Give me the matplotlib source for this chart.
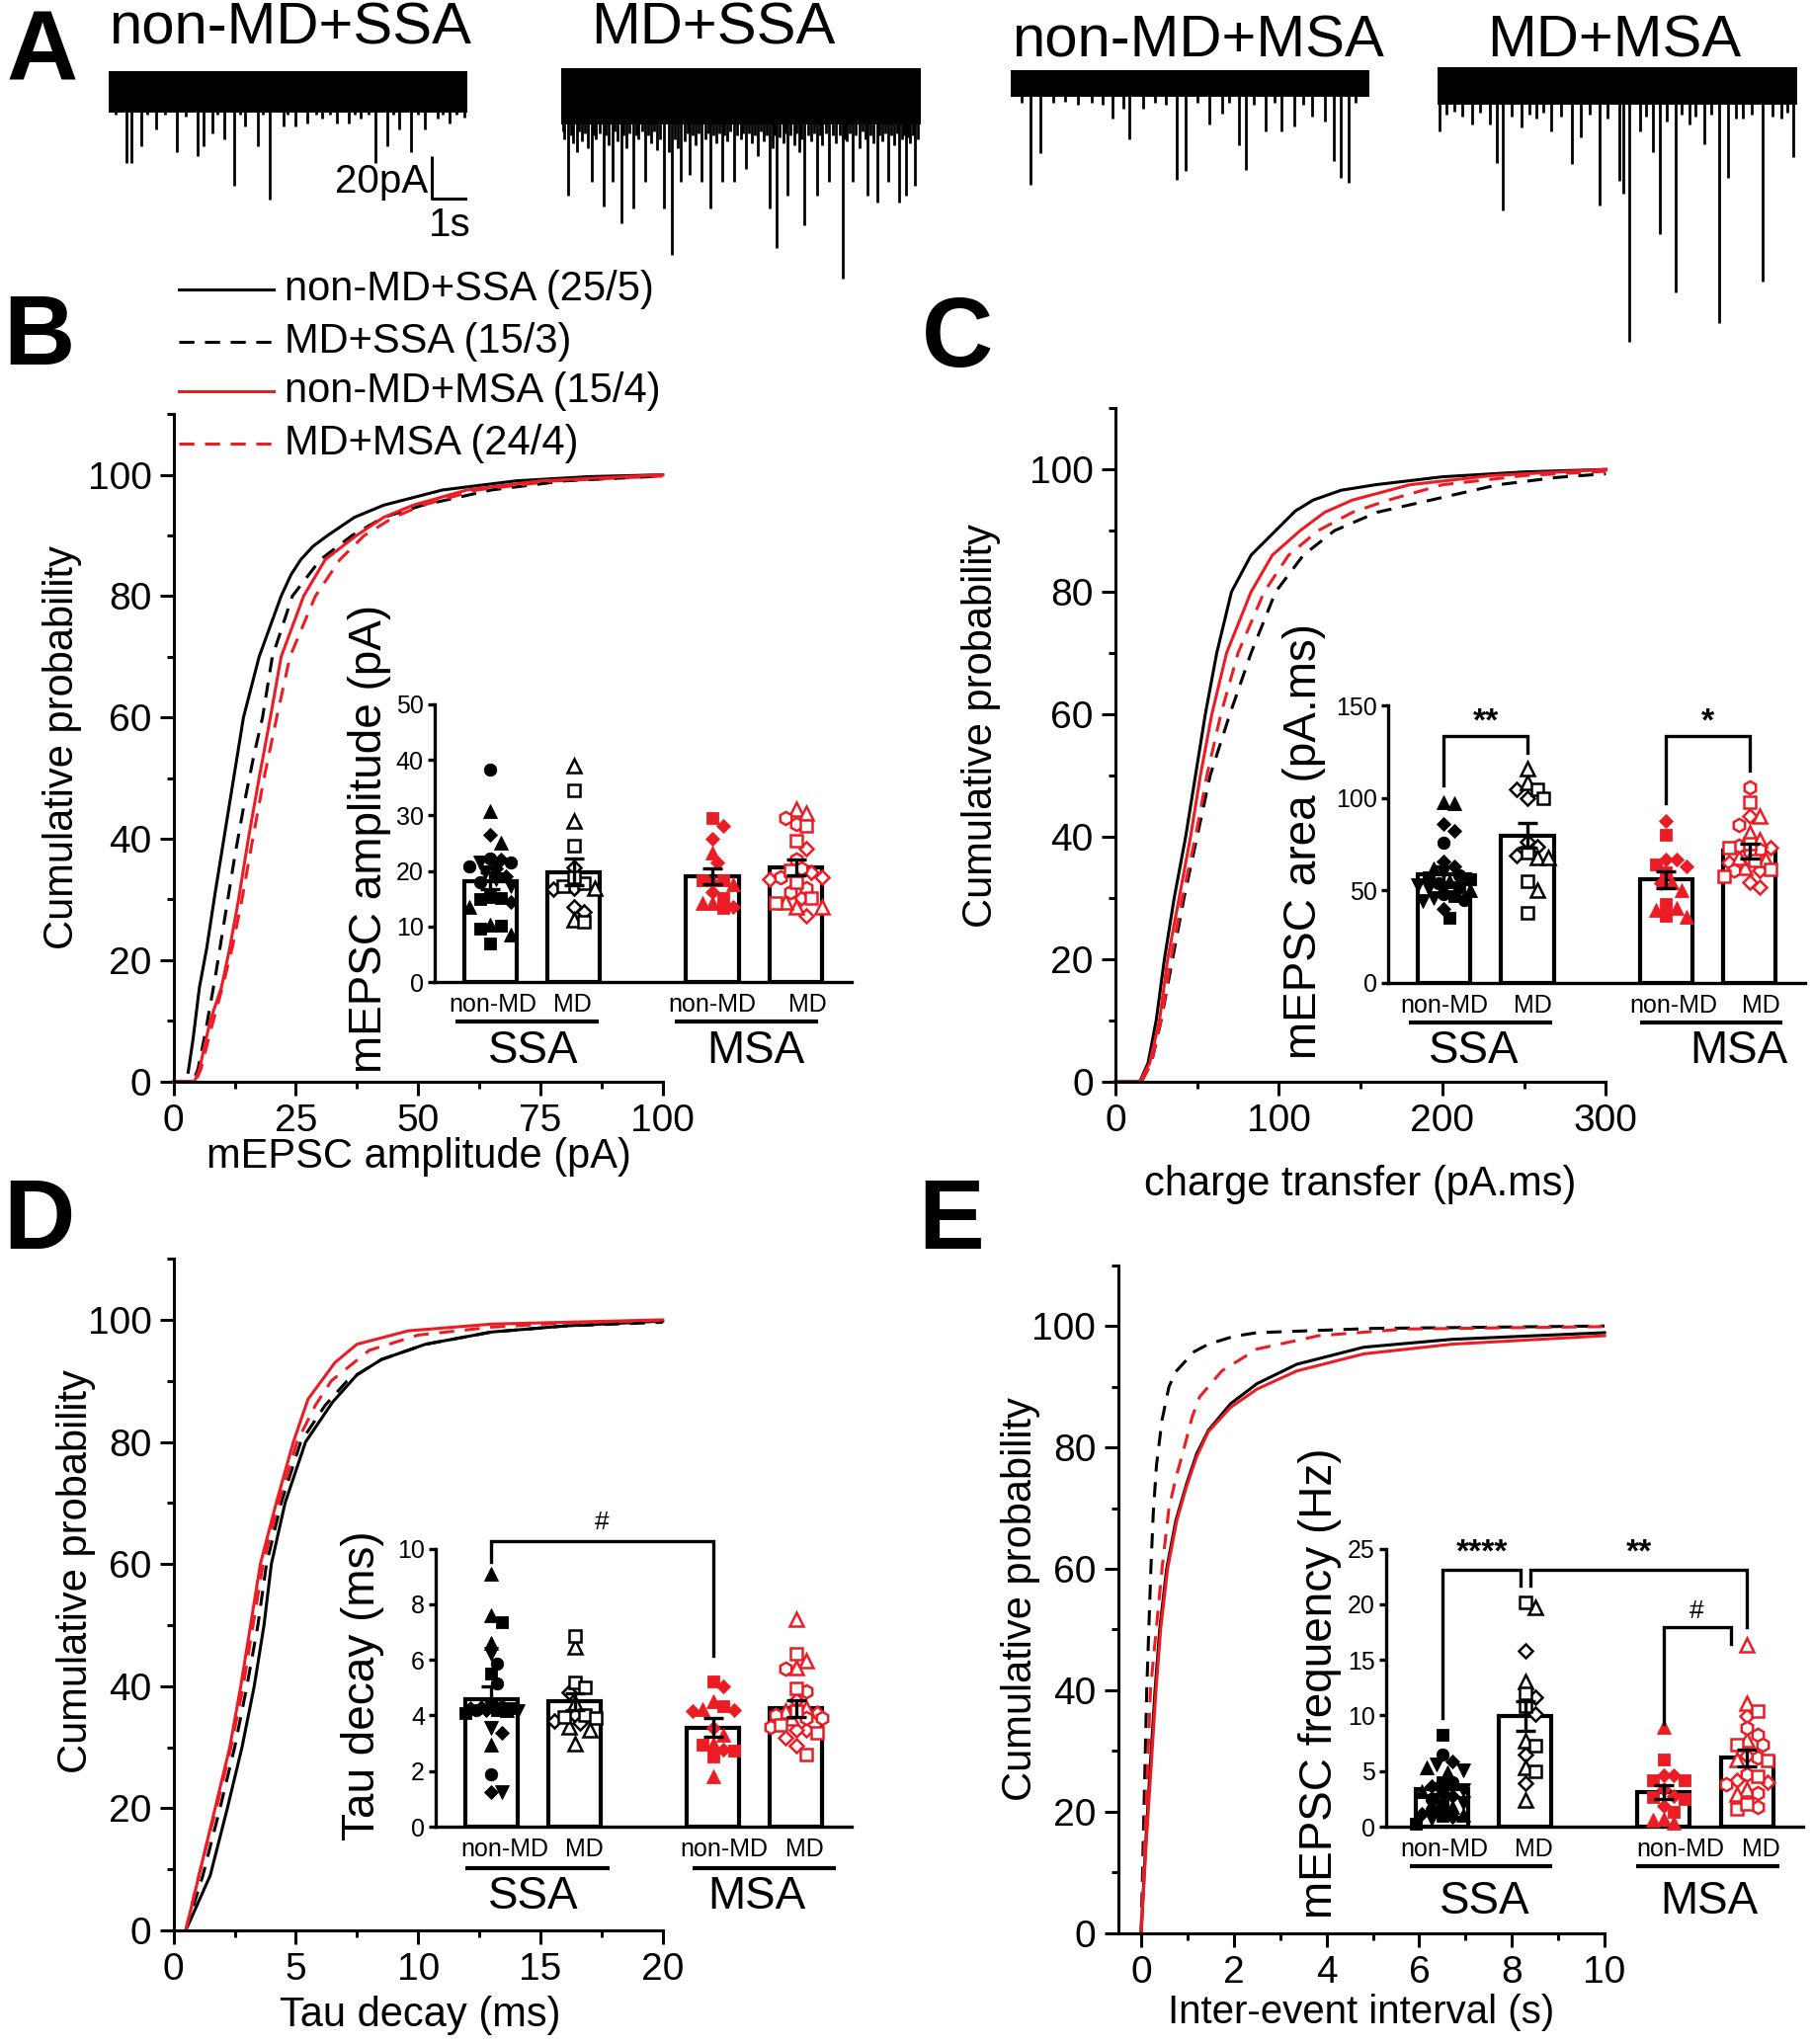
import numpy as np
import matplotlib
matplotlib.use('Agg')
import matplotlib.pyplot as plt

plt.rcParams['font.family'] = ['Liberation Sans', 'DejaVu Sans']

BLACK = '#000000'
RED = '#ec1c24'

# ------------------------------------------------------------------ DATA
# Panel A: representative traces, (event time s, event amplitude pA)
trace_titles = ['non-MD+SSA', 'MD+SSA', 'non-MD+MSA', 'MD+MSA']
trace_length_s = 10.2
trace1_events = [(0.20, 12), (0.51, 35), (0.67, 35), (0.93, 27), (1.10, 12), (1.35, 19), (1.60, 12),
                 (1.94, 30), (2.20, 13), (2.53, 32), (2.70, 27), (2.95, 21), (3.10, 12), (3.29, 24),
                 (3.59, 46), (3.75, 12), (3.88, 17.5), (4.25, 27), (4.40, 12), (4.60, 52.5), (4.97, 17.5),
                 (5.10, 12), (5.31, 17.5), (5.65, 16), (5.90, 12), (6.07, 14), (6.30, 12), (6.49, 16),
                 (6.83, 16), (7.00, 12), (7.17, 14), (7.40, 12), (7.59, 35), (7.92, 27), (8.10, 12),
                 (8.26, 19), (8.60, 30), (8.80, 12), (8.99, 19), (9.36, 14), (9.50, 12), (9.69, 16),
                 (9.90, 12), (10.12, 13.5)]
trace2_events = [(0.05, 20), (0.10, 24), (0.20, 51), (0.28, 22), (0.35, 26), (0.45, 30), (0.52, 20),
                 (0.60, 25), (0.68, 21), (0.75, 28), (0.87, 44.5), (0.94, 22), (1.00, 24), (1.10, 21),
                 (1.21, 56), (1.28, 22), (1.35, 27), (1.46, 44.5), (1.53, 20), (1.60, 25), (1.71, 64),
                 (1.78, 22), (1.85, 28), (1.95, 21), (2.05, 57), (2.12, 22), (2.20, 24), (2.30, 20),
                 (2.39, 44.5), (2.47, 22), (2.55, 26), (2.63, 20), (2.72, 29), (2.80, 24), (2.92, 57),
                 (3.05, 30), (3.14, 79.5), (3.22, 24), (3.30, 28), (3.39, 44.5), (3.50, 25), (3.58, 21),
                 (3.65, 41), (3.72, 22), (3.80, 27), (3.90, 21), (3.98, 44.5), (4.10, 24), (4.17, 21),
                 (4.23, 57), (4.32, 22), (4.40, 26), (4.48, 21), (4.57, 44.5), (4.63, 22), (4.70, 25),
                 (4.80, 20), (4.91, 44.5), (5.00, 22), (5.10, 24), (5.17, 21), (5.24, 38), (5.32, 21),
                 (5.40, 26), (5.49, 22), (5.58, 32), (5.66, 20), (5.75, 25), (5.84, 22), (5.92, 57),
                 (6.00, 28), (6.06, 22), (6.12, 76), (6.20, 23), (6.30, 26), (6.36, 21), (6.42, 51),
                 (6.50, 22), (6.60, 27), (6.68, 21), (6.75, 30), (6.82, 24), (6.89, 65), (7.00, 22),
                 (7.10, 25), (7.18, 21), (7.26, 51), (7.33, 22), (7.40, 27), (7.50, 21), (7.60, 44.5),
                 (7.70, 22), (7.80, 26), (7.89, 22), (7.97, 90.6), (8.03, 24), (8.10, 25), (8.18, 21),
                 (8.27, 44.5), (8.36, 22), (8.45, 28), (8.55, 20), (8.62, 24), (8.69, 51), (8.77, 22),
                 (8.85, 26), (8.97, 54), (9.03, 22), (9.10, 25), (9.18, 21), (9.28, 44.5), (9.36, 22),
                 (9.45, 27), (9.52, 21), (9.58, 54), (9.66, 24), (9.72, 22), (9.78, 51), (9.84, 23),
                 (9.90, 26), (9.96, 22), (10.03, 46), (10.12, 24)]
trace3_events = [(0.30, 10), (0.55, 49), (0.83, 34), (1.20, 10), (1.55, 9.5), (1.90, 11), (2.30, 10),
                 (2.60, 11), (2.89, 17.4), (3.19, 12.6), (3.36, 27.6), (3.76, 12.6), (4.10, 10),
                 (4.40, 11), (4.72, 46.6), (4.97, 42.6), (5.30, 10), (5.64, 20.5), (6.01, 15), (6.20, 10),
                 (6.48, 30), (6.68, 42), (6.90, 11), (7.23, 23.7), (7.50, 10), (7.70, 23.7), (8.06, 21.3),
                 (8.30, 11), (8.56, 16.6), (8.93, 19), (9.18, 38), (9.37, 45.8), (9.60, 48.2), (9.80, 10)]
trace4_events = [(0.05, 23), (0.25, 15), (0.47, 13.4), (0.70, 16), (0.97, 19.8), (1.20, 14), (1.47, 19.8),
                 (1.69, 38), (1.85, 61), (2.10, 16), (2.39, 21), (2.60, 15), (2.80, 16.6), (3.00, 14),
                 (3.22, 23), (3.50, 16), (3.81, 38.7), (4.06, 26), (4.30, 15), (4.59, 58.5), (4.80, 17),
                 (5.14, 46.6), (5.26, 53), (5.44, 124), (5.73, 23), (5.90, 16), (6.09, 33), (6.31, 72),
                 (6.48, 18), (6.74, 100), (6.90, 15), (7.14, 19.8), (7.30, 16), (7.56, 29), (7.75, 15),
                 (7.98, 114.6), (8.23, 45), (8.45, 17), (8.65, 16.6), (8.90, 15), (9.22, 95), (9.50, 16),
                 (9.73, 16.6), (9.90, 14), (10.07, 35.5)]
trace_noise_low = [-11, -17, -7, -10]
trace_noise_high = [9, 10, 6, 8]
scalebar_pA = 20
scalebar_s = 1

# Cumulative distributions (legend order: non-MD+SSA, MD+SSA, non-MD+MSA, MD+MSA)
legend_labels = ['non-MD+SSA (25/5)', 'MD+SSA (15/3)', 'non-MD+MSA (15/4)', 'MD+MSA (24/4)']

amp_cdf_x_nonMD_SSA = [3.0, 4.0, 5.3, 6.8, 8.5, 10.5, 12.5, 14.3, 17.5, 22, 24, 26, 28.5, 31.5, 37, 43, 55, 70, 85, 100]
amp_cdf_y_nonMD_SSA = [1.5, 7, 15.5, 22, 31, 41, 51, 60, 70, 80, 83.5, 86, 88.2, 90, 93, 95, 97.5, 99, 99.7, 100]
amp_cdf_x_MD_SSA = [0, 4.0, 5.0, 6.5, 8.5, 10.5, 12.5, 14.5, 16.5, 18.2, 20.2, 24.3, 30, 36.5, 43, 51, 65, 80, 100]
amp_cdf_y_MD_SSA = [0, 0, 2, 8, 17, 27, 37, 46, 54, 60, 70, 80, 86, 90, 93, 95, 97.5, 99, 99.8]
amp_cdf_x_nonMD_MSA = [0, 4.3, 5.3, 7.5, 9.8, 11.5, 13.3, 15.3, 17.5, 19.8, 22, 26.6, 31, 37.4, 43, 49, 60, 75, 100]
amp_cdf_y_nonMD_MSA = [0, 0, 2, 10, 15.5, 22, 30, 40, 50, 60, 70, 80, 86, 90, 93, 95, 97.5, 99, 100]
amp_cdf_x_MD_MSA = [0, 4.5, 5.6, 7.8, 10, 12, 14, 16.2, 18.5, 21.1, 23.8, 29, 34, 39, 45, 51, 62, 78, 100]
amp_cdf_y_MD_MSA = [0, 0, 2, 9, 15.5, 22, 30, 40, 50, 60, 70, 80, 86, 90, 93, 95, 97.5, 99, 99.8]

area_cdf_x_nonMD_SSA = [0, 15, 20, 25, 30, 36, 43, 49, 55, 62, 71, 83, 98, 110, 121, 138, 159, 200, 250, 300]
area_cdf_y_nonMD_SSA = [0, 0, 3, 10, 20, 30, 40, 50, 60, 70, 80, 86, 90, 93.2, 95, 96.6, 97.5, 98.8, 99.6, 100]
area_cdf_x_MD_SSA = [0, 16, 22, 28, 35, 42, 50, 58, 64, 70, 83, 98, 115, 134, 160, 193, 234, 270, 300]
area_cdf_y_MD_SSA = [0, 0, 3, 10, 20, 30, 40, 50, 55, 60, 70, 80, 86, 90, 93, 95, 97.5, 98.7, 99.3]
area_cdf_x_nonMD_MSA = [0, 15, 21, 27, 32, 39, 46, 52, 59, 68, 83, 96, 113, 128, 145, 180, 230, 300]
area_cdf_y_nonMD_MSA = [0, 0, 3, 10, 20, 30, 40, 50, 60, 70, 80, 86, 90, 93, 95, 97.5, 99, 100]
area_cdf_x_MD_MSA = [0, 16, 22, 28, 34, 41, 49, 56, 64.5, 75, 91, 106, 124, 145, 167, 200, 250, 300]
area_cdf_y_MD_MSA = [0, 0, 3, 10, 20, 30, 40, 50, 60, 70, 80, 86, 90, 93, 95, 97.5, 99, 99.7]

tau_cdf_x_nonMD_SSA = [0.5, 1.5, 2.2, 2.8, 3.3, 3.7, 4.0, 4.56, 5.4, 6.5, 7.5, 8.5, 10.3, 13, 16, 20]
tau_cdf_y_nonMD_SSA = [0, 9, 20, 30, 40, 50, 60, 70, 80, 86.5, 91, 93.5, 96, 98, 99, 99.8]
tau_cdf_x_MD_SSA = [0.5, 1.2, 1.9, 2.5, 3.0, 3.45, 3.8, 4.4, 5.2, 6.2, 7.1, 8.5, 10.3, 13, 16, 20]
tau_cdf_y_MD_SSA = [0, 9, 20, 30, 40, 50, 60, 70, 80, 86, 90, 93.5, 96, 98, 99, 99.6]
tau_cdf_x_nonMD_MSA = [0.5, 1.1, 1.7, 2.3, 2.75, 3.15, 3.55, 4.2, 4.9, 5.5, 6.05, 6.6, 7.5, 9.6, 13, 20]
tau_cdf_y_nonMD_MSA = [0, 10, 20, 30, 40, 50, 60, 70, 80, 87, 90, 93, 96, 98.2, 99.3, 100]
tau_cdf_x_MD_MSA = [0.5, 1.1, 1.75, 2.35, 2.85, 3.25, 3.66, 4.3, 5.05, 5.8, 6.45, 8.0, 10, 13, 16, 20]
tau_cdf_y_MD_MSA = [0, 10, 20, 30, 40, 50, 60, 70, 80, 86, 90, 95, 97.5, 98.8, 99.5, 99.9]

iei_cdf_x_nonMD_SSA = [0, 0.1, 0.2, 0.3, 0.4, 0.55, 0.75, 0.98, 1.2, 1.45, 1.93, 2.5, 3.36, 4.8, 6.7, 10]
iei_cdf_y_nonMD_SSA = [0, 15, 28, 40, 50, 60, 68, 74, 79, 82.8, 87.2, 90.5, 93.7, 96.5, 97.8, 98.9]
iei_cdf_x_MD_SSA = [0, 0.12, 0.21, 0.26, 0.33, 0.45, 0.6, 0.75, 0.93, 1.15, 1.45, 2.0, 2.5, 5, 10]
iei_cdf_y_MD_SSA = [0, 40, 60, 69, 77, 84.5, 90, 92.5, 94, 95.8, 97, 98.3, 98.9, 99.6, 100]
iei_cdf_x_nonMD_MSA = [0, 0.11, 0.22, 0.32, 0.42, 0.57, 0.77, 0.98, 1.2, 1.45, 1.93, 2.5, 3.36, 4.8, 6.7, 10]
iei_cdf_y_nonMD_MSA = [0, 15, 28, 40, 50, 60, 68, 73.6, 78.5, 82.6, 86.6, 89.6, 92.6, 95.4, 97, 98.4]
iei_cdf_x_MD_MSA = [0, 0.2, 0.45, 0.6, 0.75, 0.93, 1.1, 1.26, 1.74, 2.5, 3.83, 5.7, 10]
iei_cdf_y_MD_MSA = [0, 40, 60, 70, 75, 80, 85, 88.3, 92.6, 96.2, 98.4, 99.5, 99.9]

# Inset bar graphs: group means, SEM and per-cell values (one sub-list per animal)
inset_groups = ['non-MD', 'MD', 'non-MD', 'MD']
inset_sides = ['SSA', 'MSA']

amp_mean = [18.2, 19.8, 19.1, 20.7]
amp_sem = [1.5, 2.4, 1.4, 1.4]
amp_nonMD_SSA = [[15.4, 14.9, 15.1, 9.6, 10.1, 6.9], [30.8, 25.1, 13.6, 10.4, 8.6],
                 [26.6, 22.1, 20.5, 14.5, 19.0], [38.3, 22.2, 21.6, 20.9, 18.0], [21.6, 18.5, 17.2, 19.8]]
amp_MD_SSA = [[34.5, 24.6, 17.8, 17.3, 18.8, 10.8], [39.0, 29.0, 16.9, 11.2], [20.7, 16.7, 16.9, 13.6, 12.7]]
amp_nonMD_MSA = [[29.6, 18.3, 18.3, 15.2, 13.3], [23.4, 17.6, 18.6, 14.2, 14.2], [28.1, 25.9, 21.6, 16.2, 13.6]]
amp_MD_MSA = [[28.2, 25.4, 20.1, 15.1, 14.2, 18.0], [31.1, 30.5, 13.6, 13.6, 14.5],
              [24.1, 19.8, 18.8, 18.6, 15.1, 12.0], [28.4, 29.6, 22.1, 20.4, 18.8, 16.9, 16.3]]

area_mean = [58.8, 79.8, 55.8, 71.3]
area_sem = [4.4, 6.6, 4.4, 3.9]
area_nonMD_SSA = [[35.1, 57, 52, 56, 47], [97.5, 97.0, 62, 55, 50], [86, 82, 65.9, 63.2, 40.1],
                  [75.7, 58, 54, 48, 45], [60, 53, 51, 46, 44]]
area_MD_SSA = [[104.8, 99.8, 70.7, 54.7, 37.8], [108.7, 115.8, 68, 67.7, 50.4], [99.8, 104.6, 76.6, 73.9, 69.1]]
area_nonMD_MSA = [[80.2, 64.1, 59.7, 42.8, 36.5], [49.9, 54.3, 40.4, 39.2, 35.6], [87.6, 66.8, 66.8, 62.9, 54.0]]
area_MD_MSA = [[98, 75.2, 61.5, 57.9, 66, 73], [90, 81, 77.5, 62.4, 66.8, 68],
               [90, 60.6, 54.3, 51.7, 73, 65], [106, 85.5, 72, 71, 60.6, 74]]

tau_mean = [4.59, 4.5, 3.57, 4.26]
tau_sem = [0.44, 0.3, 0.33, 0.3]
tau_nonMD_SSA = [[7.35, 5.5, 4.2, 4.25, 4.1], [9.1, 7.6, 6.6, 2.96, 4.2], [3.37, 1.24, 4.2, 4.25, 4.3],
                 [5.86, 5.15, 1.87, 4.3, 4.2], [6.2, 3.55, 1.24, 4.15, 4.3]]
tau_MD_SSA = [[6.86, 5.2, 5.0, 4.0, 3.96, 3.9], [6.45, 4.44, 3.49, 3.0, 3.6], [4.85, 4.0, 3.73, 3.8]]
tau_nonMD_MSA = [[5.23, 4.32, 2.96, 2.72, 2.54], [4.5, 4.24, 3.31, 3.0, 1.83], [5.03, 4.14, 4.2, 3.55, 2.78]]
tau_MD_MSA = [[6.21, 4.97, 4.14, 3.37, 3.67, 2.6], [7.46, 5.97, 5.73, 4.26, 3.9, 4.14],
              [4.56, 4.08, 3.49, 3.49, 2.9, 3.2], [5.67, 4.88, 3.9, 3.6, 4.02, 3.9]]

freq_mean = [3.4, 9.97, 3.1, 6.2]
freq_sem = [0.5, 1.35, 0.6, 0.75]
freq_nonMD_SSA = [[8.3, 4.0, 2.0, 0.3, 1.0], [4.88, 5.3, 3.2, 1.8, 1.1], [5.86, 3.6, 2.8, 1.2, 0.9],
                  [6.45, 4.0, 3.0, 2.5, 1.5], [5.56, 5.1, 3.3, 0.7, 2.1]]
freq_MD_SSA = [[20.2, 12.0, 10.8, 7.25, 4.97], [19.7, 13.1, 7.75, 5.3, 2.43], [15.8, 11.6, 10.1, 6.45, 3.9]]
freq_nonMD_MSA = [[6.07, 4.14, 4.14, 2.5, 1.33, 2.66], [9.0, 0.6, 0.74, 0.36], [4.59, 4.64, 3.4, 2.8, 1.83]]
freq_MD_MSA = [[10.4, 7.4, 5.98, 4.5, 1.63, 2.07], [16.3, 11.1, 7.84, 6.07, 3.4, 2.96],
               [9.97, 6.36, 4.0, 4.14], [8.9, 8.3, 7.4, 6.2, 4.73, 3.85, 3.0, 1.78]]

# ------------------------------------------------------------------ STYLE / LAYOUT
W, H = 1389.0, 1567.0  # layout reference frame


def rect(x0, x1, ytop, ybot):
    return [x0 / W, 1 - ybot / H, (x1 - x0) / W, (ybot - ytop) / H]


fig = plt.figure(figsize=(18.34, 20.69), dpi=100)
fig.patch.set_facecolor('white')

LW = 2.2
DASH = (0, (5, 3.5))
curve_styles = [(BLACK, '-'), (BLACK, DASH), (RED, '-'), (RED, DASH)]

# ---------------- Panel A traces
trace_events = [trace1_events, trace2_events, trace3_events, trace4_events]
trace_xpos = [(83, 358), (430, 706), (775, 1050), (1102, 1378)]
trace_base = [68.7, 68.5, 63.0, 64.0]
px_per_pA = 1.6
Y_LO, Y_HI = -130, 20
for i in range(4):
    x0, x1 = trace_xpos[i]
    b = trace_base[i]
    ax = fig.add_axes(rect(x0, x1, b - Y_HI * px_per_pA, b - Y_LO * px_per_pA))
    ax.set_xlim(0, trace_length_s)
    ax.set_ylim(Y_LO, Y_HI)
    ax.axis('off')
    ax.fill_between([0, trace_length_s], trace_noise_low[i], trace_noise_high[i], color=BLACK, lw=0)
    ev = trace_events[i]
    ax.vlines([e[0] for e in ev], 0, [-e[1] for e in ev], colors=BLACK, lw=2.0)
    if i == 0:
        xs0 = trace_length_s - scalebar_s
        ax.plot([xs0, xs0, trace_length_s], [-32, -32 - scalebar_pA, -32 - scalebar_pA],
                color=BLACK, lw=2.2, solid_capstyle='butt')
        ax.text(xs0 - 0.1, -32 - scalebar_pA / 2 - 2, '%dpA' % scalebar_pA, ha='right', va='center', fontsize=29)
        ax.text(xs0 + scalebar_s / 2, -65, '%ds' % scalebar_s, ha='center', va='center', fontsize=29)


# ---------------- main CDF axes
def main_axes(x0, x1, ytop, ybot, xlim, xmaj, xmin):
    ax = fig.add_axes(rect(x0, x1, ytop, ybot))
    ax.set_xlim(*xlim)
    ax.set_ylim(0, 110)
    for s in ['top', 'right']:
        ax.spines[s].set_visible(False)
    for s in ['left', 'bottom']:
        ax.spines[s].set_linewidth(LW)
    ax.set_xticks(xmaj)
    ax.set_xticks(xmin, minor=True)
    ax.set_yticks([0, 20, 40, 60, 80, 100])
    ax.set_yticks([10, 30, 50, 70, 90, 110], minor=True)
    ax.tick_params(which='major', direction='out', length=10, width=LW, labelsize=28, pad=6)
    ax.tick_params(which='minor', direction='out', length=5, width=LW)
    ax.patch.set_alpha(0)
    return ax


def plot_cdfs(ax, curves):
    for (x, y), (c, ls) in zip(curves, curve_styles):
        ax.plot(x, y, color=c, ls=ls, lw=LW, clip_on=False, solid_joinstyle='round')


axB = main_axes(133, 508, 317.5, 829, (0, 100), [0, 25, 50, 75, 100], [12.5, 37.5, 62.5, 87.5])
plot_cdfs(axB, [(amp_cdf_x_nonMD_SSA, amp_cdf_y_nonMD_SSA), (amp_cdf_x_MD_SSA, amp_cdf_y_MD_SSA),
                (amp_cdf_x_nonMD_MSA, amp_cdf_y_nonMD_MSA), (amp_cdf_x_MD_MSA, amp_cdf_y_MD_MSA)])
axC = main_axes(855, 1231, 313, 829, (0, 300), [0, 100, 200, 300], [50, 150, 250])
plot_cdfs(axC, [(area_cdf_x_nonMD_SSA, area_cdf_y_nonMD_SSA), (area_cdf_x_MD_SSA, area_cdf_y_MD_SSA),
                (area_cdf_x_nonMD_MSA, area_cdf_y_nonMD_MSA), (area_cdf_x_MD_MSA, area_cdf_y_MD_MSA)])
axD = main_axes(133, 508, 965, 1480, (0, 20), [0, 5, 10, 15, 20], [2.5, 7.5, 12.5, 17.5])
plot_cdfs(axD, [(tau_cdf_x_nonMD_SSA, tau_cdf_y_nonMD_SSA), (tau_cdf_x_MD_SSA, tau_cdf_y_MD_SSA),
                (tau_cdf_x_nonMD_MSA, tau_cdf_y_nonMD_MSA), (tau_cdf_x_MD_MSA, tau_cdf_y_MD_MSA)])
axE = main_axes(857, 1230, 970, 1482, (-0.5, 10), [0, 2, 4, 6, 8, 10], [1, 3, 5, 7, 9])
plot_cdfs(axE, [(iei_cdf_x_nonMD_SSA, iei_cdf_y_nonMD_SSA), (iei_cdf_x_MD_SSA, iei_cdf_y_MD_SSA),
                (iei_cdf_x_nonMD_MSA, iei_cdf_y_nonMD_MSA), (iei_cdf_x_MD_MSA, iei_cdf_y_MD_MSA)])

# ---------------- insets
BAR_X = [0, 1, 2.66, 3.66]
BAR_W = 0.63
group_colors = [BLACK, BLACK, RED, RED]
group_filled = [True, False, True, False]
group_markers = [['s', '^', 'D', 'o', 'v'], ['s', '^', 'D'], ['s', '^', 'D'], ['s', '^', 'D', 'h']]
marker_size = {'s': 8.5, '^': 9.5, 'v': 9.5, 'D': 7.2, 'o': 9.0, 'h': 9.5}


def inset_axes(x0, x1, ytop, ybot, ylim, yticks):
    ax = fig.add_axes(rect(x0, x1, ytop, ybot))
    ax.set_xlim(-0.67, 4.33)
    ax.set_ylim(*ylim)
    for s in ['top', 'right']:
        ax.spines[s].set_visible(False)
    for s in ['left', 'bottom']:
        ax.spines[s].set_linewidth(2.4)
    ax.set_xticks([])
    ax.set_yticks(yticks)
    ax.tick_params(axis='y', direction='out', length=5, width=2.4, labelsize=18, pad=3)
    ax.patch.set_alpha(0)
    return ax


def swarm(ax, xc, vals, diam=10.5, maxoff=28.0):
    vals = np.asarray(vals, float)
    pts = ax.transData.transform(np.column_stack([np.full(len(vals), xc), vals]))
    xcp = pts[0, 0]
    ys = pts[:, 1]
    step = diam / 2.0
    cands = [0.0]
    k = 1
    while k * step <= maxoff:
        cands += [k * step, -k * step]
        k += 1
    placed = []
    offs = np.zeros(len(vals))
    for i in np.argsort(-ys):
        best, bestd = 0.0, -1.0
        for c in cands:
            d = min([np.hypot(c - px, ys[i] - py) for px, py in placed], default=np.inf)
            if d >= diam:
                best = c
                break
            if d > bestd:
                bestd, best = d, c
        placed.append((best, ys[i]))
        offs[i] = best
    inv = ax.transData.inverted()
    return inv.transform(np.column_stack([xcp + offs, ys]))[:, 0]


def draw_inset(ax, means, sems, groups):
    ax.bar(BAR_X, means, width=BAR_W, facecolor='white', edgecolor=BLACK, linewidth=3, zorder=2)
    for g, animals in enumerate(groups):
        vals, marks = [], []
        for a, v in enumerate(animals):
            vals += list(v)
            marks += [group_markers[g][a]] * len(v)
        xs = swarm(ax, BAR_X[g], vals)
        col = group_colors[g]
        for m in sorted(set(marks)):
            idx = [j for j, mm in enumerate(marks) if mm == m]
            ax.plot(xs[idx], np.asarray(vals)[idx], ls='none', marker=m, ms=marker_size[m],
                    mfc=col if group_filled[g] else 'white', mec=col,
                    mew=0.6 if group_filled[g] else 1.8, zorder=3, clip_on=False)
    ax.errorbar(BAR_X, means, yerr=sems, fmt='none', ecolor=BLACK, elinewidth=2.4,
                capsize=7, capthick=2.4, zorder=5)


def bracket(ax, x0, x1, ytop, yb0, yb1, label, ty, fs, bold=True):
    ax.plot([x0, x0, x1, x1], [yb0, ytop, ytop, yb1], color=BLACK, lw=2.4, clip_on=False,
            solid_joinstyle='miter', zorder=6)
    ax.text(ty[0], ty[1], label, ha='center', va='center',
            fontsize=fs, fontweight='bold' if bold else 'normal', clip_on=False)


iB = inset_axes(333, 653, 540, 753, (0, 50), [0, 10, 20, 30, 40, 50])
draw_inset(iB, amp_mean, amp_sem, [amp_nonMD_SSA, amp_MD_SSA, amp_nonMD_MSA, amp_MD_MSA])

iC = inset_axes(1064, 1384, 541, 753.4, (0, 150), [0, 50, 100, 150])
draw_inset(iC, area_mean, area_sem, [area_nonMD_SSA, area_MD_SSA, area_nonMD_MSA, area_MD_MSA])
bracket(iC, BAR_X[0], BAR_X[1], 133.6, 106.9, 124.7, '**', (0.5, 141), 24)
bracket(iC, BAR_X[2], BAR_X[3], 133.6, 97, 115, '*', (3.16, 141), 24)

iD = inset_axes(334, 653, 1187.2, 1400.4, (0, 10), [0, 2, 4, 6, 8, 10])
draw_inset(iD, tau_mean, tau_sem, [tau_nonMD_SSA, tau_MD_SSA, tau_nonMD_MSA, tau_MD_MSA])
bracket(iD, BAR_X[0], BAR_X[2], 10.26, 9.53, 6.15, '#', (1.33, 10.95), 19, bold=False)

iE = inset_axes(1062.6, 1382, 1187.2, 1400.4, (0, 25), [0, 5, 10, 15, 20, 25])
draw_inset(iE, freq_mean, freq_sem, [freq_nonMD_SSA, freq_MD_SSA, freq_nonMD_MSA, freq_MD_MSA])
bracket(iE, BAR_X[0], BAR_X[1] - 0.06, 23.1, 9.76, 21.7, '****', (0.48, 24.6), 24)
bracket(iE, BAR_X[1] + 0.06, BAR_X[3], 23.1, 21.7, 17.9, '**', (2.36, 24.6), 24)
bracket(iE, BAR_X[2], BAR_X[3] - 0.19, 17.9, 9.2, 16.4, '#', (3.06, 19.4), 19, bold=False)

# ---------------- overlay for text labels
ov = fig.add_axes([0, 0, 1, 1], zorder=10)
ov.set_xlim(0, W)
ov.set_ylim(H, 0)
ov.axis('off')

for lab, (x, y) in zip('ABCDE', [(32, 42), (30, 260), (734, 261), (30, 938), (729, 938)]):
    ov.text(x, y, lab, ha='center', va='center', fontsize=72, fontweight='bold')

for t, (x, y) in zip(trace_titles, [(222, 22), (547, 22), (918, 32), (1237, 32)]):
    ov.text(x, y, t, ha='center', va='center', fontsize=43)

# legend
for k, (lab, (c, ls)) in enumerate(zip(legend_labels, curve_styles)):
    y = [222, 262, 300, 340][k]
    ov.plot([137, 210], [y, y], color=c, ls=ls, lw=LW)
    ov.text(218, y, lab, ha='left', va='center', fontsize=30)

# axis labels
ov.text(48, 573, 'Cumulative probability', rotation=90, ha='center', va='center', fontsize=30)
ov.text(752, 556, 'Cumulative probability', rotation=90, ha='center', va='center', fontsize=30)
ov.text(58, 1205, 'Cumulative probability', rotation=90, ha='center', va='center', fontsize=30)
ov.text(782, 1226, 'Cumulative probability', rotation=90, ha='center', va='center', fontsize=30)
ov.text(321, 887, 'mEPSC amplitude (pA)', ha='center', va='center', fontsize=30)
ov.text(1043, 908, 'charge transfer (pA.ms)', ha='center', va='center', fontsize=30)
ov.text(322, 1545, 'Tau decay (ms)', ha='center', va='center', fontsize=30)
ov.text(1043, 1543, 'Inter-event interval (s)', ha='center', va='center', fontsize=29)

ov.text(283, 643, 'mEPSC amplitude (pA)', rotation=90, ha='center', va='center', fontsize=33)
ov.text(1000, 645, 'mEPSC area (pA.ms)', rotation=90, ha='center', va='center', fontsize=33)
ov.text(278, 1292, 'Tau decay (ms)', rotation=90, ha='center', va='center', fontsize=33)
ov.text(1012, 1290, 'mEPSC frequency (Hz)', rotation=90, ha='center', va='center', fontsize=33)

# inset category labels
inset_label_layout = [
    # group label x (4), label y, SSA line (x0,x1), MSA line (x0,x1), line y, SSA/MSA text x, text y
    ([378, 439, 546, 619], 770, (349, 459), (517, 627), 783, (409, 579), 806),
    ([1107, 1175, 1283, 1350], 771, (1080, 1190), (1257, 1366), 784, (1130, 1333), 806),
    ([387, 448, 555, 617], 1418, (357, 467), (531, 641), 1432, (409, 580), 1454),
    ([1107, 1176, 1288, 1350], 1418, (1081, 1190), (1254, 1364), 1431, (1138, 1310), 1458),
]
for gx, gy, l1, l2, ly, sx, sy in inset_label_layout:
    for x, lab in zip(gx, inset_groups):
        ov.text(x, gy, lab, ha='center', va='center', fontsize=18)
    ov.plot(l1, [ly, ly], color=BLACK, lw=3, solid_capstyle='butt')
    ov.plot(l2, [ly, ly], color=BLACK, lw=3, solid_capstyle='butt')
    for x, lab in zip(sx, inset_sides):
        ov.text(x, sy, lab, ha='center', va='center', fontsize=33)

fig.savefig('out.png', dpi=100, facecolor='white')
